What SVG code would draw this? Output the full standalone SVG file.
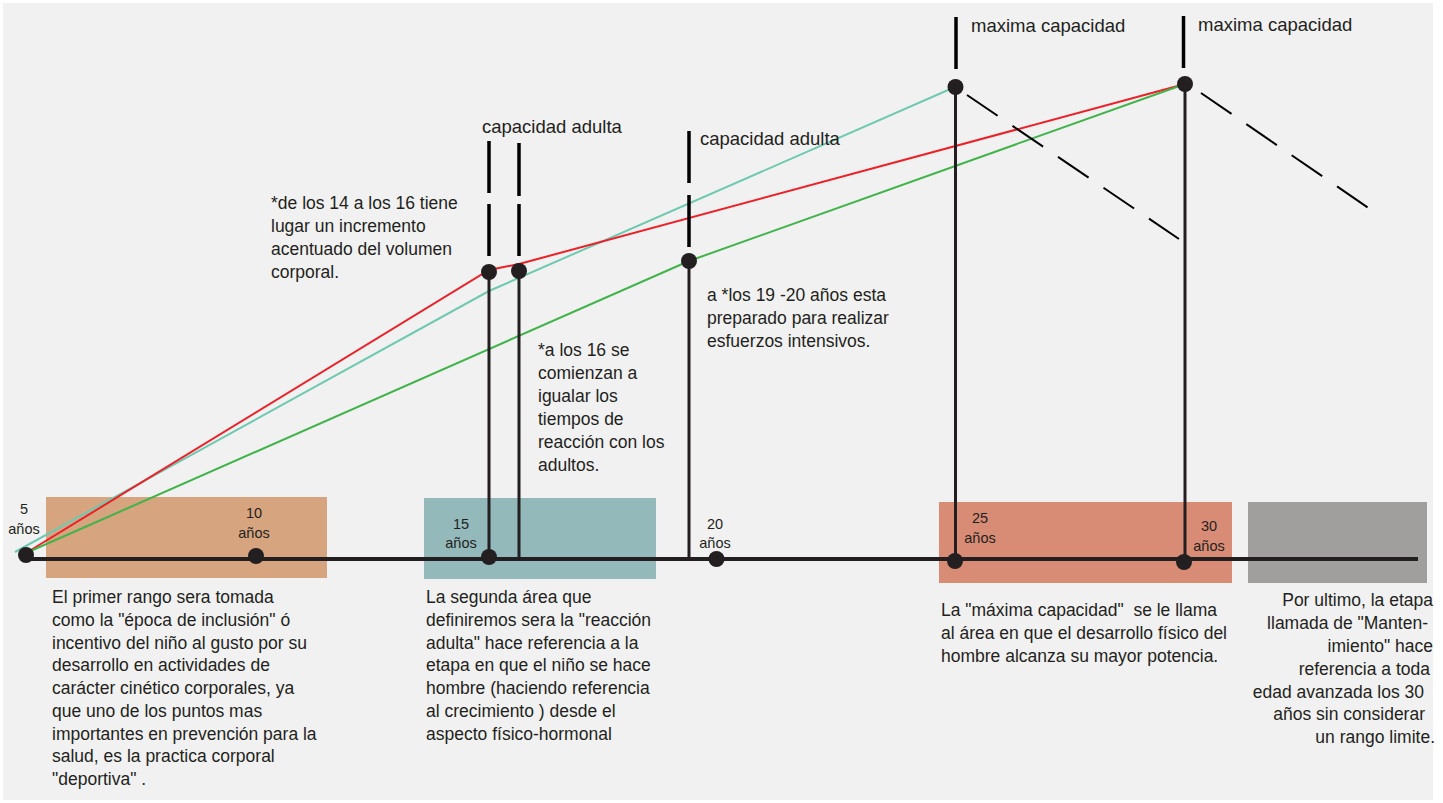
<svg xmlns="http://www.w3.org/2000/svg" width="1443" height="803" viewBox="0 0 1443 803">
<style>
text { font-family: "Liberation Sans", Arial, sans-serif; fill: #231f20; }
.body { font-size: 17.5px; }
.lbl { font-size: 18.5px; }
.age { font-size: 14.5px; text-anchor: middle; }
.end { text-anchor: end; }
.dot { fill: #231f20; }
.axis { stroke: #231f20; stroke-width: 4; fill: none; }
.stem { stroke: #231f20; stroke-width: 3; fill: none; }
.tick { stroke: #000; stroke-width: 3.5; fill: none; }
.dash { stroke: #000; stroke-width: 2; stroke-dasharray: 37 18; fill: none; }
.red { stroke: #ed2027; stroke-width: 2; fill: none; }
.teal { stroke: #6ec9b0; stroke-width: 2; fill: none; }
.green { stroke: #40b44a; stroke-width: 2; fill: none; }
</style>
<rect x="0" y="0" width="1443" height="803" fill="#ffffff"/>
<rect x="3" y="3" width="1430" height="797" fill="#f1f1f1"/>

<g id="stage-inclusion">
<rect x="46" y="497" width="281" height="81" fill="#d6a47e"/>
<text class="body" x="52"><tspan x="52" y="603">El primer rango sera tomada</tspan><tspan x="52" y="625.75">como la "época de inclusión" ó</tspan><tspan x="52" y="648.5">incentivo del niño al gusto por su</tspan><tspan x="52" y="671.25">desarrollo en actividades de</tspan><tspan x="52" y="694">carácter cinético corporales, ya</tspan><tspan x="52" y="716.75">que uno de los puntos mas</tspan><tspan x="52" y="739.5">importantes en prevención para la</tspan><tspan x="52" y="762.25">salud, es la practica corporal</tspan><tspan x="52" y="785">"deportiva" .</tspan></text>
</g>

<g id="stage-reaccion">
<rect x="424" y="498" width="232" height="81" fill="#93b9bb"/>
<text class="body"><tspan x="426" y="603">La segunda área que</tspan><tspan x="426" y="625.75">definiremos sera la "reacción</tspan><tspan x="426" y="648.5">adulta" hace referencia a la</tspan><tspan x="426" y="671.25">etapa en que el niño se hace</tspan><tspan x="426" y="694">hombre (haciendo referencia</tspan><tspan x="426" y="716.75">al crecimiento ) desde el</tspan><tspan x="426" y="739.5">aspecto físico-hormonal</tspan></text>
</g>

<g id="stage-maxima">
<rect x="939" y="502" width="293" height="81" fill="#d98c75"/>
<text class="body" xml:space="preserve"><tspan x="941" y="616">La "máxima capacidad"  se le llama</tspan><tspan x="941" y="639">al área en que el desarrollo físico del</tspan><tspan x="941" y="662">hombre alcanza su mayor potencia.</tspan></text>
</g>

<g id="stage-mantenimiento">
<rect x="1248" y="502" width="179" height="81" fill="#a09f9d"/>
<text class="body end"><tspan x="1433" y="606">Por ultimo, la etapa</tspan><tspan x="1428" y="629">llamada de "Manten-</tspan><tspan x="1433" y="652">imiento" hace</tspan><tspan x="1430" y="674.5">referencia a toda</tspan><tspan x="1424" y="697.5">edad avanzada los 30</tspan><tspan x="1425" y="720">años sin considerar</tspan><tspan x="1435" y="743">un rango limite.</tspan></text>
</g>

<g id="connectors">
<line class="axis" x1="25" y1="559" x2="1418" y2="559"/>
<polyline class="teal" points="15,552 489,291 955,87"/>
<polyline class="red" points="26,553 489,270 519,264 1185,84"/>
<polyline class="green" points="26,553 689,261 1185,84"/>
<line class="stem" x1="489" y1="272" x2="489" y2="557"/>
<line class="stem" x1="519" y1="271" x2="519" y2="559"/>
<line class="stem" x1="689" y1="261" x2="689" y2="559"/>
<line class="stem" x1="955.5" y1="87" x2="955.5" y2="559"/>
<line class="stem" x1="1185" y1="84" x2="1185" y2="562"/>
<line class="tick" x1="489" y1="141" x2="489" y2="193"/>
<line class="tick" x1="489" y1="204" x2="489" y2="256"/>
<line class="tick" x1="519" y1="143" x2="519" y2="196"/>
<line class="tick" x1="519" y1="204" x2="519" y2="256"/>
<line class="tick" x1="689" y1="131" x2="689" y2="183"/>
<line class="tick" x1="689" y1="195" x2="689" y2="247"/>
<line class="tick" x1="956" y1="17" x2="956" y2="69"/>
<line class="tick" x1="1183.5" y1="16" x2="1183.5" y2="68"/>
<line class="dash" x1="967" y1="95" x2="1179" y2="239"/>
<line class="dash" x1="1201" y1="93" x2="1370" y2="209"/>
</g>

<g id="age-5"><circle class="dot" cx="26" cy="555" r="8"/><text class="age"><tspan x="24" y="514">5</tspan><tspan x="24" y="533.5">años</tspan></text></g>
<g id="age-10"><circle class="dot" cx="256" cy="556" r="8"/><text class="age"><tspan x="254" y="518">10</tspan><tspan x="254" y="537.5">años</tspan></text></g>
<g id="age-15"><circle class="dot" cx="489" cy="557" r="8"/><text class="age"><tspan x="461" y="528.5">15</tspan><tspan x="461" y="548">años</tspan></text></g>
<g id="age-20"><circle class="dot" cx="716.5" cy="559" r="8"/><text class="age"><tspan x="715" y="528.5">20</tspan><tspan x="715" y="548">años</tspan></text></g>
<g id="age-25"><circle class="dot" cx="955" cy="561" r="8"/><text class="age"><tspan x="980" y="523">25</tspan><tspan x="980" y="542.5">años</tspan></text></g>
<g id="age-30"><circle class="dot" cx="1184" cy="562" r="8"/><text class="age"><tspan x="1209" y="531">30</tspan><tspan x="1209" y="550.5">años</tspan></text></g>

<g id="peak-14-16">
<circle class="dot" cx="489" cy="272" r="8"/>
<text class="body"><tspan x="271" y="209">*de los 14 a los 16 tiene</tspan><tspan x="271" y="232">lugar un incremento</tspan><tspan x="271" y="255">acentuado del volumen</tspan><tspan x="271" y="278">corporal.</tspan></text>
<text class="lbl" x="482" y="132.5">capacidad adulta</text>
</g>
<g id="peak-16">
<circle class="dot" cx="519" cy="271" r="8"/>
<text class="body"><tspan x="538" y="356">*a los 16 se</tspan><tspan x="538" y="379">comienzan a</tspan><tspan x="538" y="402">igualar los</tspan><tspan x="538" y="425">tiempos de</tspan><tspan x="538" y="448">reacción con los</tspan><tspan x="538" y="471">adultos.</tspan></text>
</g>
<g id="peak-19-20">
<circle class="dot" cx="689" cy="261" r="8"/>
<text class="body"><tspan x="707" y="301">a *los 19 -20 años esta</tspan><tspan x="707" y="324">preparado para realizar</tspan><tspan x="707" y="347">esfuerzos intensivos.</tspan></text>
<text class="lbl" x="700" y="144.5">capacidad adulta</text>
</g>
<g id="peak-25">
<circle class="dot" cx="955.5" cy="87" r="8"/>
<text class="lbl" x="971" y="32">maxima capacidad</text>
</g>
<g id="peak-30">
<circle class="dot" cx="1185" cy="84" r="8"/>
<text class="lbl" x="1198" y="31">maxima capacidad</text>
</g>
</svg>
